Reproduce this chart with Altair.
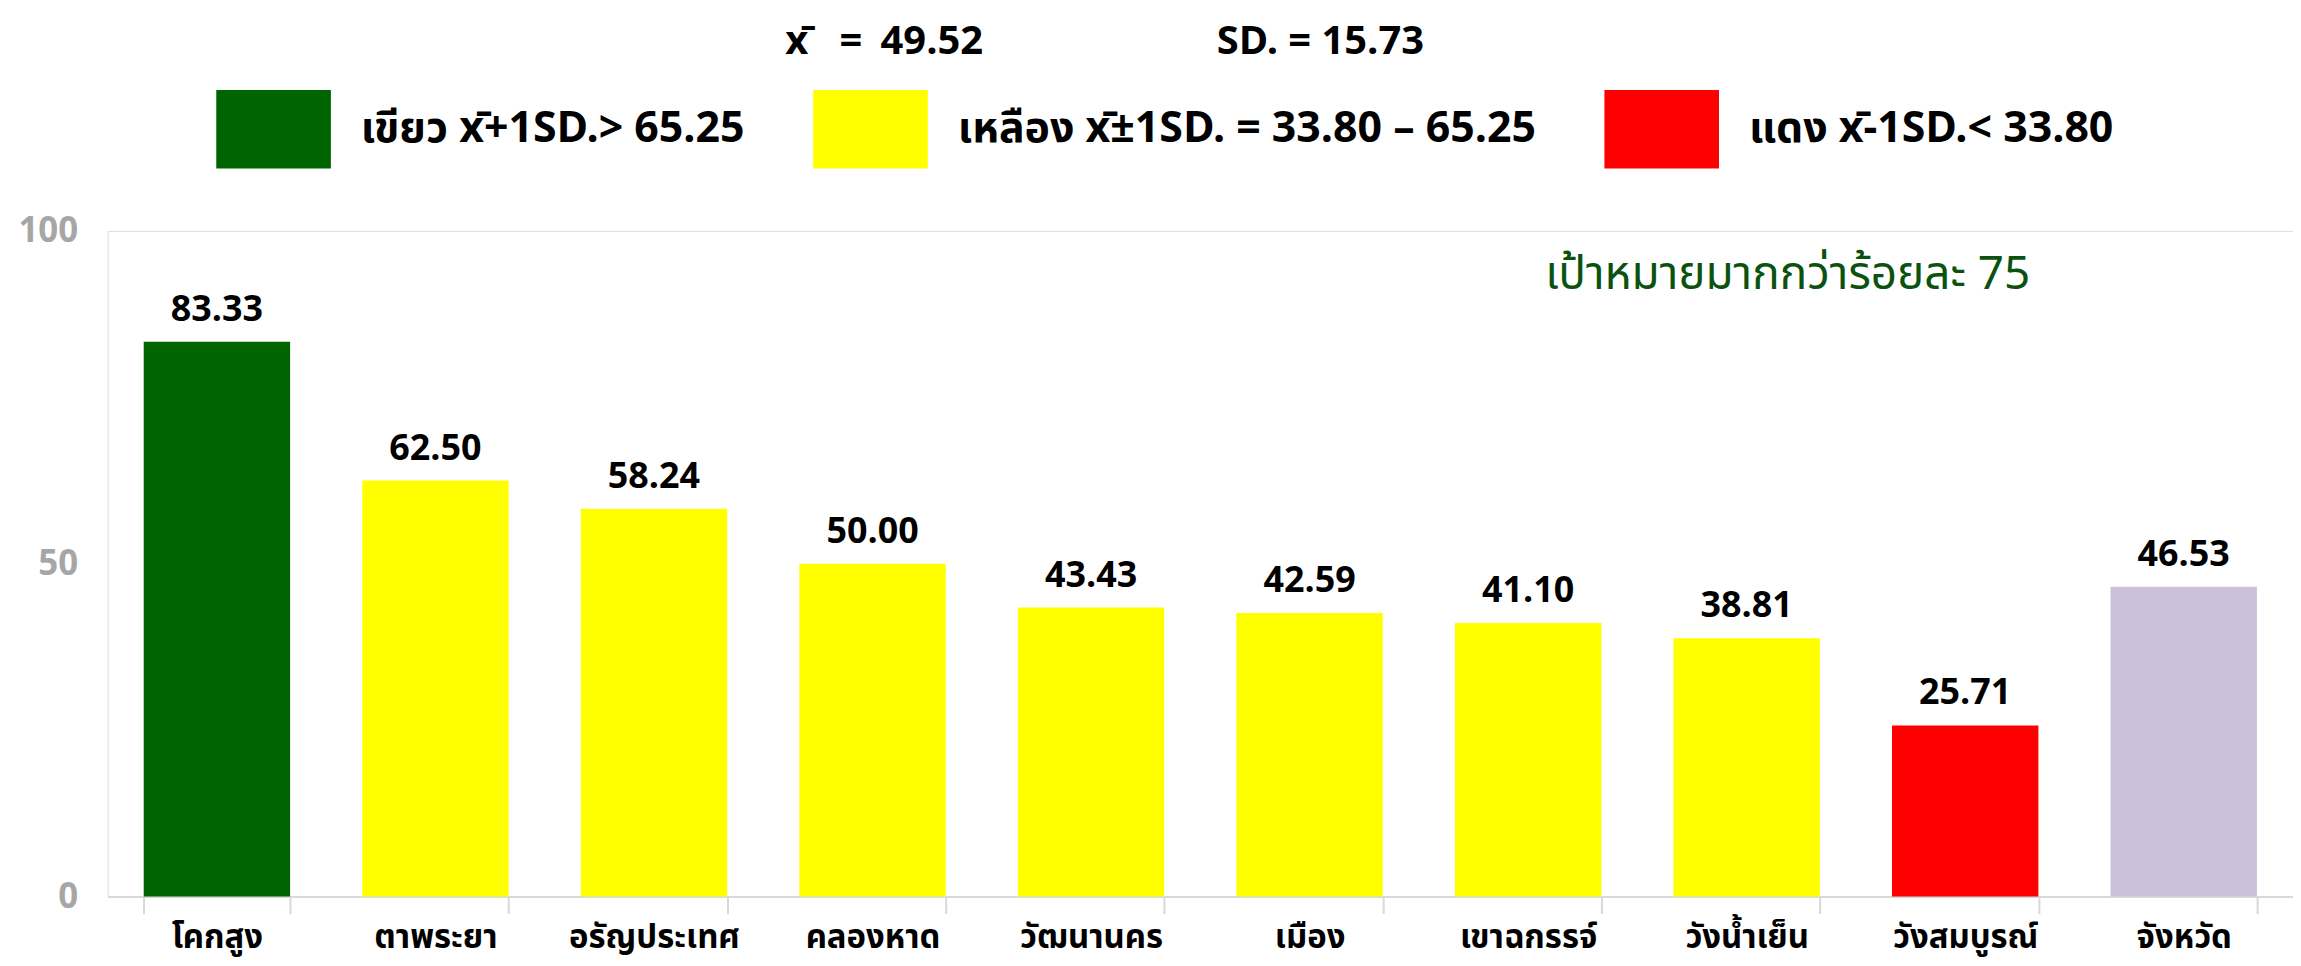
import altair as alt
import pandas as pd

districts = ["โคกสูง", "ตาพระยา", "อรัญประเทศ", "คลองหาด", "วัฒนานคร",
             "เมือง", "เขาฉกรรจ์", "วังน้ำเย็น", "วังสมบูรณ์", "จังหวัด"]
values = [83.33, 62.50, 58.24, 50.00, 43.43, 42.59, 41.10, 38.81, 25.71, 46.53]
levels = ["green", "yellow", "yellow", "yellow", "yellow", "yellow", "yellow", "yellow", "red", "province"]

level_labels = {
    "green": "เขียว x̄+1SD.> 65.25",
    "yellow": "เหลือง x̄±1SD. = 33.80 – 65.25",
    "red": "แดง x̄-1SD.< 33.80",
    "province": "จังหวัด",
}
level_colors = ["#006400", "#FFFF00", "#FF0000", "#CCC1DA"]
mean_text = "x̄\u00a0\u00a0\u00a0=\u00a0\u200949.52"
sd_text = "SD. = 15.73"
target_text = "เป้าหมายมากกว่าร้อยละ 75"
y_ticks = [0, 50, 100]

df = pd.DataFrame({
    "district": districts,
    "value": values,
    "level": [level_labels[l] for l in levels],
})

FONT = "Tahoma, 'Noto Sans Thai', 'Noto Sans', 'DejaVu Sans', sans-serif"
domain = [level_labels[k] for k in ["green", "yellow", "red", "province"]]

x = alt.X("district:N", sort=districts, title=None,
          scale=alt.Scale(paddingInner=0.33, paddingOuter=0.165),
          axis=alt.Axis(labelAngle=0, labelFont=FONT, labelFontSize=33,
                        labelFontWeight="bold", labelColor="#000000",
                        domainColor="#D9D9D9", domainWidth=2,
                        tickColor="#D9D9D9", tickWidth=2, tickSize=17,
                        tickBand="extent", labelPadding=8))
y = alt.Y("value:Q", title=None,
          scale=alt.Scale(domain=[0, 100], nice=False),
          axis=alt.Axis(values=y_ticks, grid=False, domain=False, ticks=False,
                        labelFont=FONT, labelFontSize=35, labelFontWeight="bold",
                        labelColor="#A6A6A6", labelPadding=30))

base = alt.Chart(df)
bars = base.mark_bar().encode(
    x=x, y=y,
    color=alt.Color("level:N", scale=alt.Scale(domain=domain, range=level_colors),
                    legend=alt.Legend(
                        values=domain[:3], title=None, orient="none",
                        legendX=109, legendY=-160, direction="horizontal",
                        columns=3, symbolType="M-1,-0.687H1V0.687H-1Z",
                        symbolSize=13225, symbolStrokeWidth=0, symbolOpacity=1,
                        labelFont=FONT, labelFontSize=43, labelFontWeight="bold",
                        labelColor="#000000", labelLimit=0, labelOffset=30,
                        columnPadding=68)),
)
labels = base.mark_text(font=FONT, fontSize=36, fontWeight="bold",
                        baseline="bottom", dy=-13, color="#000000").encode(
    x=alt.X("district:N", sort=districts), y="value:Q",
    text=alt.Text("value:Q", format=".2f"))

one = alt.Chart(pd.DataFrame({"k": [0]}))
mean_mark = one.mark_text(font=FONT, fontSize=40, fontWeight="bold",
                          align="left", baseline="top").encode(
    x=alt.value(680), y=alt.value(-210), text=alt.value(mean_text))
sd_mark = one.mark_text(font=FONT, fontSize=40, fontWeight="bold",
                        align="left", baseline="top").encode(
    x=alt.value(1113), y=alt.value(-210), text=alt.value(sd_text))
target_mark = one.mark_text(font=FONT, fontSize=46, color="#0B5210",
                            align="center", baseline="middle").encode(
    x=alt.value(1686), y=alt.value(44), text=alt.value(target_text))

chart = alt.layer(bars, labels, mean_mark, sd_mark, target_mark).properties(
    width=2193, height=668,
    autosize=alt.AutoSizeParams(type="none"),
    padding={"left": 100, "top": 222, "right": 0, "bottom": 64},
).configure_view(stroke=None).configure(background="#FFFFFF")

chart.save("out.html", embed_options={"renderer": "svg", "actions": False})
